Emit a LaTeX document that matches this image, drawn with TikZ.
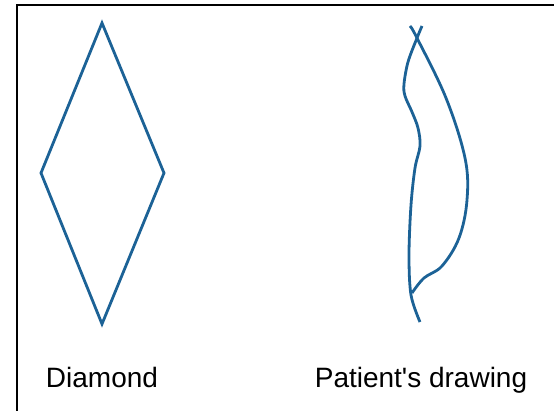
\documentclass[tikz,border=0pt]{standalone}
\usepackage{fontspec}
\newfontfamily\labelfont{Liberation Sans}
\definecolor{inkblue}{RGB}{28,98,150}
\begin{document}
\begin{tikzpicture}[x=1pt,y=-1pt,
    shape line/.style={draw=inkblue,line width=2.8pt,line join=miter},
    caption/.style={font=\labelfont\fontsize{28}{30}\selectfont,anchor=base,inner sep=0pt}
]
\useasboundingbox (0,0) rectangle (554,411);
\draw[line width=2pt] (17,411) -- (17,5) -- (554,5);

% diamond
\draw[shape line] (102,23) -- (164,173) -- (102,324) -- (41,173) -- cycle;

% patient's drawing
\draw[shape line,line join=round] plot[smooth,tension=0.6] coordinates {
    (410,26) (417,38) (446,98) (465,158) (467,200) (459,238)
    (442,266) (424,278) (412,293)};
\draw[shape line,line join=round] plot[smooth,tension=0.55] coordinates {
    (422,26) (417,38) (408,62) (404,84) (405,96) (412,112) (418,128)
    (420,146) (415,168) (411,205) (409,255) (411,295) (420,322)};

\node[caption] (diamond) at (102,388) {Diamond};
\node[caption] (patient) at (421,388) {Patient\textquotesingle s drawing};
\end{tikzpicture}
\end{document}
